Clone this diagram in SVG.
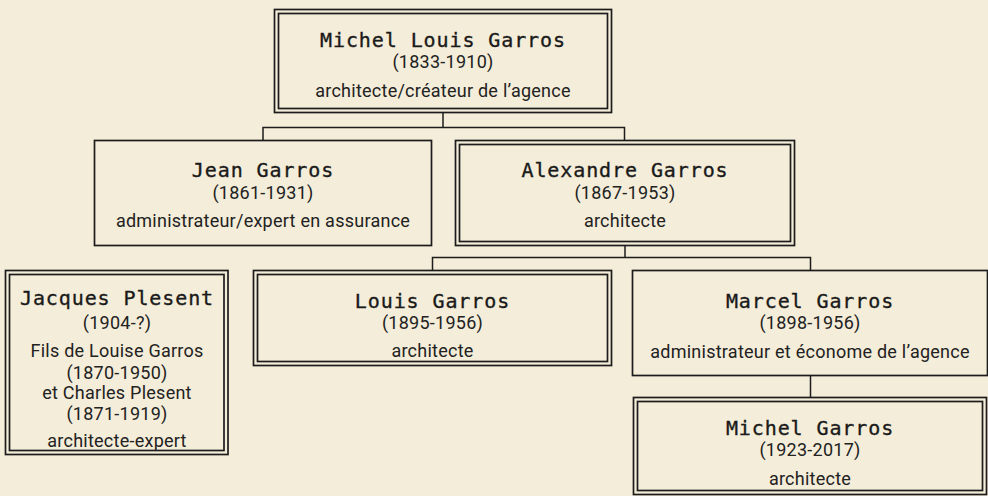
<svg xmlns="http://www.w3.org/2000/svg" width="988" height="496" viewBox="0 0 988 496">
<style>
.bg{fill:#F4EDD9}
.box{fill:#F4EDD9;stroke:#1c1c1c;stroke-width:1.7}
.inner{fill:none;stroke:#1c1c1c;stroke-width:1.7}
.conn{fill:none;stroke:#1c1c1c;stroke-width:1.5}
.name{font-family:"DejaVu Sans Mono","Liberation Mono",monospace;font-size:20px;letter-spacing:0.9px;fill:#1a1a1a;stroke:#1a1a1a;stroke-width:0.35;text-anchor:middle}
.txt{font-family:Roboto,"Liberation Sans",sans-serif;font-size:18px;letter-spacing:0.25px;fill:#222;text-anchor:middle}
</style>
<rect class="bg" x="0" y="0" width="988" height="496"/>
<g id="connectors">
<path class="conn" d="M443 112.5 V127.5"/>
<path class="conn" d="M263 140.5 V127.5 H624.5 V140.5"/>
<path class="conn" d="M625 245.5 V257.5"/>
<path class="conn" d="M432.5 270.5 V257.5 H810.5 V270.5"/>
<path class="conn" d="M810.5 375.5 V397.5"/>
</g>
<g id="michel-louis-garros">
<rect class="box" x="274.5" y="9.5" width="337" height="103"/>
<rect class="inner" x="278.5" y="13.5" width="329" height="95"/>
<text class="name" x="443" y="46.5">Michel Louis Garros</text>
<text class="txt" x="443" y="68">(1833-1910)</text>
<text class="txt" x="443" y="96.5">architecte/créateur de l’agence</text>
</g>
<g id="jean-garros">
<rect class="box" x="94.5" y="140.5" width="337" height="105"/>
<text class="name" x="263" y="177">Jean Garros</text>
<text class="txt" x="263" y="198.5">(1861-1931)</text>
<text class="txt" x="263" y="227">administrateur/expert en assurance</text>
</g>
<g id="alexandre-garros">
<rect class="box" x="455.5" y="140.5" width="339" height="105"/>
<rect class="inner" x="459.5" y="144.5" width="331" height="97"/>
<text class="name" x="625" y="177">Alexandre Garros</text>
<text class="txt" x="625" y="198.5">(1867-1953)</text>
<text class="txt" x="625" y="227">architecte</text>
</g>
<g id="jacques-plesent">
<rect class="box" x="5.5" y="270.5" width="222.5" height="184"/>
<rect class="inner" x="9.5" y="274.5" width="214.5" height="176"/>
<text class="name" x="117" y="305">Jacques Plesent</text>
<text class="txt" x="117" y="328.5">(1904-?)</text>
<text class="txt" x="117" y="357">Fils de Louise Garros</text>
<text class="txt" x="117" y="378.5">(1870-1950)</text>
<text class="txt" x="117" y="398.5">et Charles Plesent</text>
<text class="txt" x="117" y="420">(1871-1919)</text>
<text class="txt" x="117" y="447">architecte-expert</text>
</g>
<g id="louis-garros">
<rect class="box" x="253.5" y="270.5" width="358" height="95"/>
<rect class="inner" x="257.5" y="274.5" width="350" height="87"/>
<text class="name" x="432.5" y="308">Louis Garros</text>
<text class="txt" x="432.5" y="329">(1895-1956)</text>
<text class="txt" x="432.5" y="357">architecte</text>
</g>
<g id="marcel-garros">
<rect class="box" x="632.5" y="270.5" width="355" height="105"/>
<text class="name" x="810" y="307.5">Marcel Garros</text>
<text class="txt" x="810" y="329">(1898-1956)</text>
<text class="txt" x="810" y="357.5">administrateur et économe de l’agence</text>
</g>
<g id="michel-garros">
<rect class="box" x="633.5" y="397.5" width="353" height="97"/>
<rect class="inner" x="637.5" y="401.5" width="345" height="89"/>
<text class="name" x="810" y="434.5">Michel Garros</text>
<text class="txt" x="810" y="456">(1923-2017)</text>
<text class="txt" x="810" y="484.5">architecte</text>
</g>
</svg>
